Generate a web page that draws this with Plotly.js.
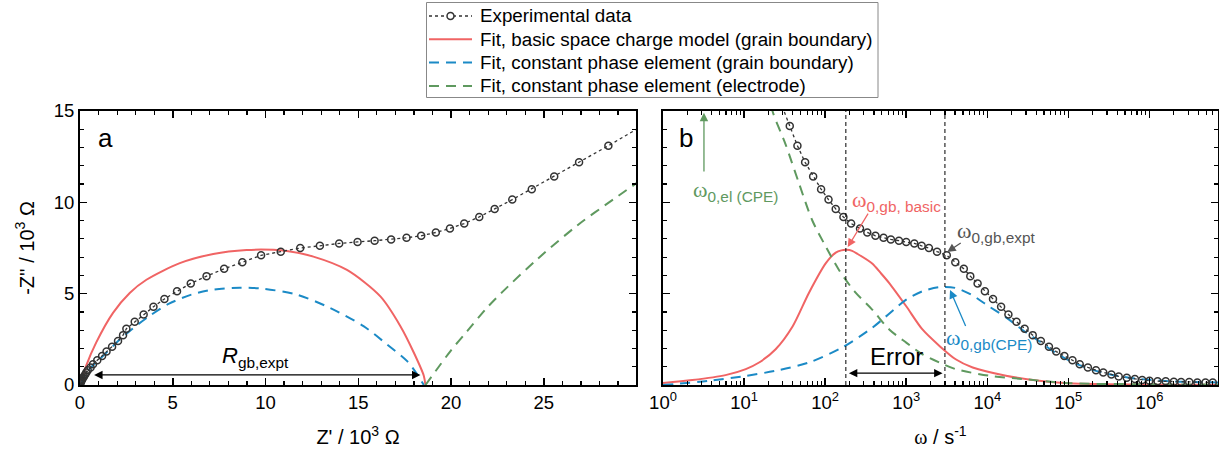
<!DOCTYPE html>
<html>
<head>
<meta charset="utf-8">
<script src="https://cdn.plot.ly/plotly-3.0.1.min.js"></script>
<style>html,body{margin:0;padding:0;background:#fff}#chart{width:1219px;height:457px}</style>
</head>
<body>
<div id="chart"></div>
<script>
// ---------- Experimental data (same points in both panels) ----------
const omega = [29.5, 36.6, 45.5, 56.6, 71.1, 89.1, 110, 135, 168, 209,
  269, 331, 417, 525, 646, 813, 1000, 1259, 1549, 1905,
  2399, 3162, 4027, 5129, 6166, 7586, 9333, 11750, 14790, 18200,
  22910, 28840, 36310, 45710, 57540, 70790, 89130, 112200, 138000, 173800,
  218800, 269200, 338800, 416900, 524800, 660700, 812800, 1000000, 1259000, 1585000,
  1995000, 2455000, 3090000, 3890000, 4900000, 6030000];
const zReal = [32.0, 30.3, 28.48, 26.9, 25.56, 24.35, 23.3, 22.35, 21.52, 20.71,
  19.94, 19.18, 18.39, 17.6, 16.77, 15.88, 14.96, 13.97, 12.93, 11.87,
  10.82, 9.76, 8.75, 7.77, 6.82, 5.97, 5.23, 4.55, 3.96, 3.43,
  2.95, 2.5, 2.32, 2.05, 1.73, 1.43, 1.19, 0.93, 0.7, 0.57,
  0.42, 0.34, 0.28, 0.21, 0.17, 0.12, 0.09, 0.07, 0.06, 0.05,
  0.045, 0.04, 0.035, 0.03, 0.03, 0.03];
const zImag = [15.25, 14.18, 13.1, 12.19, 11.41, 10.72, 10.15, 9.64, 9.2, 8.84,
  8.57, 8.35, 8.17, 8.06, 7.97, 7.9, 7.83, 7.75, 7.62, 7.5,
  7.3, 7.1, 6.72, 6.36, 5.96, 5.56, 5.13, 4.71, 4.28, 3.86,
  3.46, 3.08, 2.73, 2.41, 2.1, 1.83, 1.59, 1.36, 1.14, 0.96,
  0.81, 0.69, 0.58, 0.47, 0.40, 0.33, 0.27, 0.23, 0.21, 0.2,
  0.18, 0.16, 0.16, 0.14, 0.14, 0.14];

// ---------- Panel a fits (Nyquist) ----------
const redZre = [0, 0.33, 0.87, 1.78, 2.68, 3.58, 5.38, 7.18, 8.98, 10.42, 11.15, 12.58, 14.39, 16.19, 17.27, 17.99, 18.53, 18.62];
const redZim = [0, 1.05, 2.32, 3.95, 5.04, 5.76, 6.67, 7.17, 7.39, 7.40, 7.34, 7.03, 6.3, 4.85, 3.22, 1.78, 0.51, 0];
const blueZre = [0, 0.5, 1.3, 2.0, 2.85, 3.7, 4.8, 6.0, 7.18, 8.62, 9.88, 11.68, 13.48, 15.28, 16.54, 17.62, 18.16, 18.53];
const blueZim = [0, 0.85, 1.65, 2.35, 3.1, 3.75, 4.45, 4.95, 5.22, 5.33, 5.27, 4.95, 4.22, 3.22, 2.23, 1.32, 0.6, 0];
const greenZre = [18.62, 19.16, 20.0, 20.87, 22.0, 22.77, 24.66, 26.82, 28.8, 30.0];
const greenZim = [0, 0.75, 1.9, 2.95, 4.3, 5.1, 6.9, 8.75, 10.2, 11.05];

// ---------- Panel b fits (-Z'' vs omega) ----------
const redOmega = [1, 2.3, 5.9, 10.5, 15.3, 24.5, 39.8, 63, 102, 135, 158, 184, 215, 250, 380, 480, 617, 1000, 1585, 2570, 4070, 6600, 17000, 43600, 100000, 1000000, 7000000];
const redImB   = [0.11, 0.27, 0.54, 0.87, 1.23, 1.96, 3.22, 5.04, 6.67, 7.25, 7.37, 7.4, 7.34, 7.18, 6.65, 6.15, 5.58, 4.31, 3.04, 2.14, 1.41, 0.96, 0.51, 0.23, 0.1, 0.02, 0.01];
const blueOmega = [1, 3.7, 9.5, 24.5, 63, 162, 380, 1000, 1585, 2570, 4070, 6600, 10500, 17000, 27500, 43600, 70000, 112000, 182000, 295000, 468000, 759000, 1950000, 7000000];
const blueImB   = [0.0, 0.23, 0.47, 0.78, 1.23, 2.05, 3.13, 4.67, 5.13, 5.36, 5.31, 4.9, 4.3, 3.7, 3.0, 2.4, 1.75, 1.25, 0.88, 0.62, 0.45, 0.33, 0.2, 0.14];
const greenOmega = [20, 22.4, 32.4, 47.9, 69.2, 102, 148, 230, 380, 617, 1000, 1585, 2570, 4070, 10500, 27000, 100000, 1000000, 7000000];
const greenImB   = [16.2, 15.0, 13.19, 11.0, 9.02, 7.57, 6.3, 5.13, 4.13, 3.04, 2.32, 1.68, 1.23, 0.87, 0.51, 0.33, 0.1, 0.04, 0.02];

// characteristic frequencies marked by dashed lines
const omegaBasic = 180;
const omegaExpt = 3000;

// ---------- Tick labels ----------
const xTicksA = [0, 5, 10, 15, 20, 25];
const yTicks = [0, 5, 10, 15];
const xTicksB = [1, 10, 100, 1000, 10000, 100000, 1000000];
const xTickTextB = ['10<sup>0</sup>', '10<sup>1</sup>', '10<sup>2</sup>', '10<sup>3</sup>', '10<sup>4</sup>', '10<sup>5</sup>', '10<sup>6</sup>'];
const legendNames = ['Experimental data', 'Fit, basic space charge model (grain boundary)',
  'Fit, constant phase element (grain boundary)', 'Fit, constant phase element (electrode)'];

const RED = '#F06464', BLUE = '#1B8AC6', GREEN = '#5F995F', DARK = '#333333';
const FONT = 'Liberation Sans, Arial, sans-serif';
const W = '<span style="font-family:\'Liberation Serif\',serif">ω</span>';

const minorLog = [];
for (let d = 0; d <= 6; d++) for (let k = 2; k <= 9; k++) minorLog.push(k * Math.pow(10, d));

const expStyle = {mode: 'lines+markers', line: {color: DARK, width: 1.3, dash: 'dot'},
  marker: {symbol: 'circle-open', size: 7, color: DARK, line: {width: 1.5, color: DARK}}};

const traces = [
  {x: redZre, y: redZim, xaxis: 'x', yaxis: 'y', mode: 'lines', name: legendNames[1],
    line: {color: RED, width: 2, shape: 'spline', smoothing: 0.8}},
  {x: blueZre, y: blueZim, xaxis: 'x', yaxis: 'y', mode: 'lines', name: legendNames[2],
    line: {color: BLUE, width: 2, dash: '10px,7px', shape: 'spline', smoothing: 0.8}},
  {x: greenZre, y: greenZim, xaxis: 'x', yaxis: 'y', mode: 'lines', name: legendNames[3],
    line: {color: GREEN, width: 2, dash: '10px,7px', shape: 'spline', smoothing: 0.8}},
  Object.assign({x: zReal, y: zImag, xaxis: 'x', yaxis: 'y', name: legendNames[0]}, expStyle),
  {x: redOmega, y: redImB, xaxis: 'x2', yaxis: 'y2', mode: 'lines',
    line: {color: RED, width: 2, shape: 'spline', smoothing: 0.8}},
  {x: blueOmega, y: blueImB, xaxis: 'x2', yaxis: 'y2', mode: 'lines',
    line: {color: BLUE, width: 2, dash: '10px,7px', shape: 'spline', smoothing: 0.8}},
  {x: greenOmega, y: greenImB, xaxis: 'x2', yaxis: 'y2', mode: 'lines',
    line: {color: GREEN, width: 2, dash: '10px,7px', shape: 'spline', smoothing: 0.8}},
  Object.assign({x: omega, y: zImag, xaxis: 'x2', yaxis: 'y2', name: legendNames[0]}, expStyle)
];

const axBase = {showline: true, linewidth: 2, linecolor: '#000', mirror: 'ticks', ticks: 'inside',
  ticklen: 7, tickwidth: 1.5, tickcolor: '#000', showgrid: false, zeroline: false,
  tickfont: {family: FONT, size: 18.5, color: '#000'}};

const lg = Math.log10;
const ann = [];
function txt(xref, yref, x, y, text, size, color, extra) {
  ann.push(Object.assign({xref, yref, x, y, text, showarrow: false,
    font: {family: FONT, size, color}, xanchor: 'center', yanchor: 'middle'}, extra || {}));
}
function arrow(xref, yref, x, y, ax, ay, color, both) {
  ann.push({xref, yref, x, y, ax, ay, axref: xref, ayref: yref, text: '', showarrow: true,
    arrowhead: 2, arrowsize: 1.3, arrowwidth: 1.3, arrowcolor: color,
    arrowside: both ? 'end+start' : 'end', startarrowhead: 2, startarrowsize: 1.3});
}
// panel a
txt('x', 'y', 1.4, 13.5, 'a', 26, '#000');
arrow('x', 'y', 18.35, 0.55, 0.68, 0.55, '#000', true);
txt('x', 'y', 9.45, 1.55, '<i>R</i><sub>gb,expt</sub>', 22, '#000');
// panel b
txt('x2', 'y2', lg(1.9), 13.5, 'b', 26, '#000');
arrow('x2', 'y2', lg(3.2), 14.9, lg(3.2), 11.6, GREEN, false);
txt('x2', 'y2', lg(7.9), 10.6, W + '<sub>0,el (CPE)</sub>', 22, GREEN);
arrow('x2', 'y2', lg(190), 7.55, lg(347), 9.46, RED, false);
txt('x2', 'y2', lg(760), 10.1, W + '<sub>0,gb, basic</sub>', 22, RED);
arrow('x2', 'y2', lg(3206), 7.28, lg(4900), 7.83, '#555', false);
txt('x2', 'y2', lg(13000), 8.4, W + '<sub>0,gb,expt</sub>', 22, '#555');
arrow('x2', 'y2', lg(3470), 5.2, lg(5500), 3.15, BLUE, false);
txt('x2', 'y2', lg(10500), 2.5, W + '<sub>0,gb(CPE)</sub>', 22, BLUE);
arrow('x2', 'y2', lg(2805), 0.65, lg(188), 0.65, '#000', true);
txt('x2', 'y2', lg(760), 1.55, 'Error', 24, '#000');

// ---------- Legend (drawn as shapes + text, pixel-placed above the plots) ----------
const PL = 80, PW = 1138, PB = 385, PH = 274;
const px = X => (X - PL) / PW, py = Y => (PB - Y) / PH;
const shapes = [
  {type: 'line', xref: 'x2', yref: 'y2', x0: omegaBasic, x1: omegaBasic, y0: 0, y1: 15,
    line: {color: '#000', width: 1, dash: '4px,3px'}},
  {type: 'line', xref: 'x2', yref: 'y2', x0: omegaExpt, x1: omegaExpt, y0: 0, y1: 15,
    line: {color: '#000', width: 1, dash: '4px,3px'}},
  {type: 'rect', xref: 'paper', yref: 'paper', x0: px(426.5), x1: px(878), y0: py(97.5), y1: py(2.5),
    line: {color: '#888', width: 1}, fillcolor: '#fff'}
];
const rowY = [16, 39.3, 62.6, 85.9];
const sampleStyles = [
  {color: DARK, width: 1.3, dash: 'dot'},
  {color: RED, width: 2},
  {color: BLUE, width: 2, dash: '10px,7px'},
  {color: GREEN, width: 2, dash: '10px,7px'}
];
rowY.forEach((Y, i) => {
  shapes.push({type: 'line', xref: 'paper', yref: 'paper', x0: px(429), x1: px(472), y0: py(Y), y1: py(Y),
    line: sampleStyles[i]});
  txt('paper', 'paper', px(478), py(Y), legendNames[i], 18.8, '#000', {xanchor: 'left'});
});
shapes.push({type: 'circle', xref: 'paper', yref: 'paper', xsizemode: 'pixel', ysizemode: 'pixel',
  xanchor: px(450.5), yanchor: py(rowY[0]), x0: -3.5, x1: 3.5, y0: -3.5, y1: 3.5,
  line: {color: DARK, width: 1.5}, fillcolor: '#fff'});

const layout = {
  width: 1219, height: 457,
  margin: {l: 80, r: 1, t: 111, b: 72},
  paper_bgcolor: '#fff', plot_bgcolor: '#fff',
  font: {family: FONT, color: '#000'},
  showlegend: false,
  xaxis: Object.assign({}, axBase, {domain: [0, 0.4886], range: [0, 29.97], anchor: 'y',
    tickmode: 'array', tickvals: xTicksA,
    minor: {dtick: 1, tick0: 0, ticks: 'inside', ticklen: 4, tickwidth: 1.2, tickcolor: '#000'},
    title: {text: "Z' / 10<sup>3</sup> Ω", font: {family: FONT, size: 20}, standoff: 18}}),
  yaxis: Object.assign({}, axBase, {domain: [0, 1], range: [0, 15], anchor: 'x',
    tickmode: 'array', tickvals: yTicks,
    minor: {dtick: 1, tick0: 0, ticks: 'inside', ticklen: 4, tickwidth: 1.2, tickcolor: '#000'},
    title: {text: "-Z'' / 10<sup>3</sup> Ω", font: {family: FONT, size: 20}, standoff: 14}}),
  xaxis2: Object.assign({}, axBase, {type: 'log', domain: [0.5123, 1], range: [0, 6.845], anchor: 'y2',
    tickmode: 'array', tickvals: xTicksB, ticktext: xTickTextB,
    minor: {tickmode: 'array', tickvals: minorLog, ticks: 'inside', ticklen: 4, tickwidth: 1.2, tickcolor: '#000'},
    title: {text: W + ' / s<sup>-1</sup>', font: {family: FONT, size: 20}, standoff: 18}}),
  yaxis2: Object.assign({}, axBase, {domain: [0, 1], range: [0, 15], anchor: 'x2',
    tickmode: 'array', tickvals: yTicks, showticklabels: false,
    minor: {dtick: 1, tick0: 0, ticks: 'inside', ticklen: 4, tickwidth: 1.2, tickcolor: '#000'}}),
  shapes: shapes,
  annotations: ann
};

Plotly.newPlot('chart', traces, layout, {staticPlot: true, displayModeBar: false});
</script>
</body>
</html>
